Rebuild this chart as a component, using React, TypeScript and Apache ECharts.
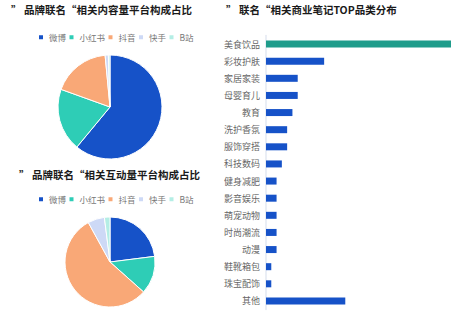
import React, { useEffect, useRef } from "react";
import * as echarts from "echarts";

const platforms = ["微博", "小红书", "抖音", "快手", "B站"];
const platformColors = ["#1652c8", "#2ecdb6", "#f9a877", "#cdd9f6", "#b4eee5"];
const contentShare = [61, 19.5, 18, 1, 0.5];
const interactionShare = [23, 13.6, 55.4, 6, 2];

const categories = [
  "美食饮品", "彩妆护肤", "家居家装", "母婴育儿", "教育", "洗护香氛", "服饰穿搭", "科技数码",
  "健身减肥", "影音娱乐", "萌宠动物", "时尚潮流", "动漫", "鞋靴箱包", "珠宝配饰", "其他",
];
const noteCounts = [35, 11, 6, 6, 5, 4, 4, 3, 2, 2, 2, 2, 2, 1, 1, 15];

const titles = [
  "” 品牌联名“相关内容量平台构成占比",
  "” 品牌联名“相关互动量平台构成占比",
  "” 联名“相关商业笔记TOP品类分布",
];

export default function App() {
  const ref = useRef<HTMLDivElement>(null);
  useEffect(() => {
    const chart = echarts.init(ref.current!, undefined, { renderer: "svg" });
    const font = "'Noto Sans CJK SC', 'Noto Sans', sans-serif";
    const titleStyle = { fontSize: 10.5, fontWeight: "bold" as const, color: "#1a1a1a", fontFamily: font };
    const legendBase = {
      data: platforms,
      icon: "rect",
      itemWidth: 6,
      itemHeight: 6,
      itemGap: 1.5,
      left: 37,
      textStyle: { fontSize: 8.5, color: "#777", fontFamily: font },
      selectedMode: false,
    };
    chart.setOption({
      animation: false,
      color: platformColors,
      textStyle: { fontFamily: font },
      title: [
        { text: titles[0], left: 11, top: 4, textStyle: titleStyle, padding: 0 },
        { text: titles[1], left: 19, top: 169, textStyle: titleStyle, padding: 0 },
        { text: titles[2], left: 226, top: 4, textStyle: titleStyle, padding: 0 },
      ],
      legend: [
        { ...legendBase, top: 33, padding: 0 },
        { ...legendBase, top: 195, padding: 0 },
      ],
      grid: { left: 266, width: 185, top: 35.5, height: 274, containLabel: false, outerBoundsMode: "none" },
      xAxis: {
        type: "value",
        min: 0,
        max: 35,
        show: false,
        splitLine: { show: false },
      },
      yAxis: {
        type: "category",
        data: categories,
        inverse: true,
        axisLine: { show: true, lineStyle: { color: "#e3e8f2", width: 1.5 } },
        axisTick: { show: false },
        axisLabel: { fontSize: 9, color: "#666", margin: 6, fontFamily: font },
      },
      series: [
        {
          type: "pie",
          center: [110, 107],
          radius: 52,
          startAngle: 90,
          label: { show: false },
          labelLine: { show: false },
          itemStyle: { borderColor: "#fff", borderWidth: 1 },
          data: platforms.map((n, i) => ({ name: n, value: contentShare[i] })),
        },
        {
          type: "pie",
          center: [110, 262],
          radius: 45,
          startAngle: 90,
          label: { show: false },
          labelLine: { show: false },
          itemStyle: { borderColor: "#fff", borderWidth: 1 },
          data: platforms.map((n, i) => ({ name: n, value: interactionShare[i] })),
        },
        {
          type: "bar",
          barWidth: 7,
          data: noteCounts.map((v, i) => ({
            value: v,
            itemStyle: { color: i === 0 ? "#1f9c8b" : "#1652c8" },
          })),
        },
      ],
    });
    return () => chart.dispose();
  }, []);
  return <div ref={ref} style={{ width: 462, height: 315, position: "absolute", left: 0, top: 0, background: "#fff" }} />;
}
